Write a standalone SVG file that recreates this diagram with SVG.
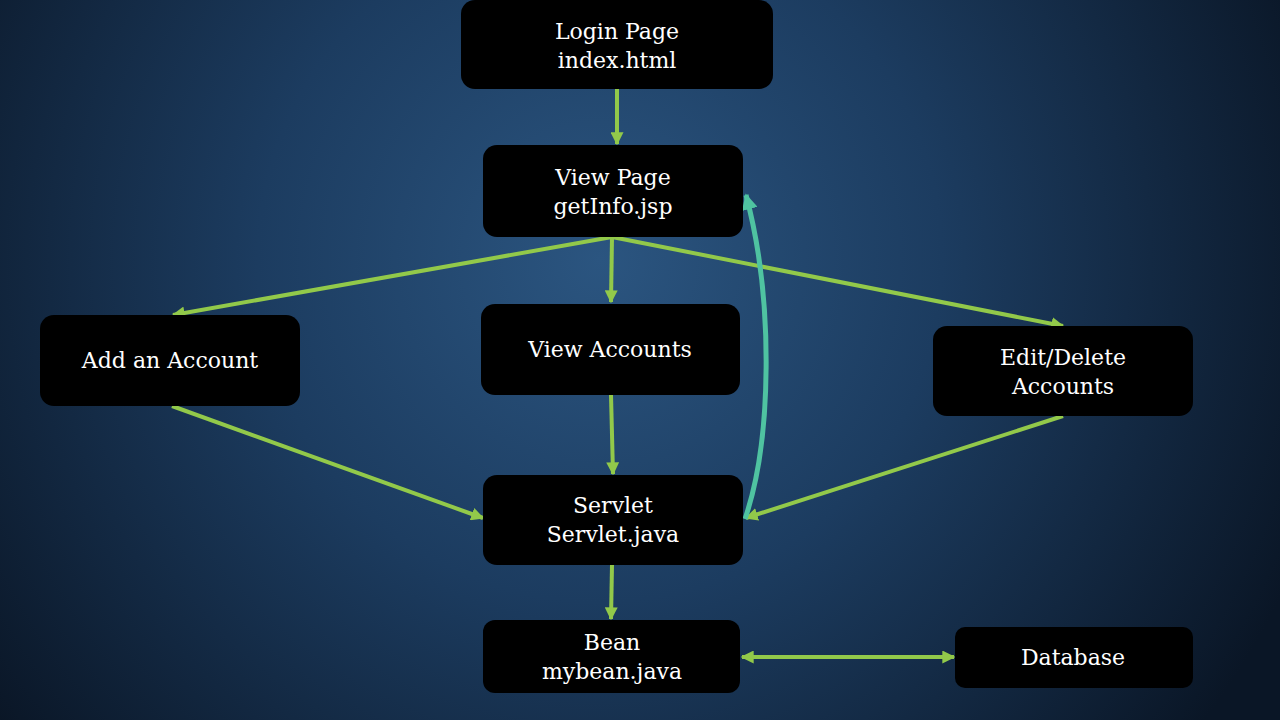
<svg xmlns="http://www.w3.org/2000/svg" width="1280" height="720" viewBox="0 0 1280 720">
<defs>
<radialGradient id="bg" cx="600" cy="260" r="760" gradientUnits="userSpaceOnUse">
<stop offset="0" stop-color="#2b5580"/>
<stop offset="0.45" stop-color="#1c3c60"/>
<stop offset="1" stop-color="#0a1626"/>
</radialGradient>
<marker id="ah" viewBox="0 0 10 10" refX="9" refY="5" markerWidth="13" markerHeight="13" markerUnits="userSpaceOnUse" orient="auto-start-reverse">
<path d="M0,0 L10,5 L0,10 z" fill="#92c94a"/>
</marker>
<marker id="ahT" viewBox="0 0 10 10" refX="9" refY="5" markerWidth="16" markerHeight="16" markerUnits="userSpaceOnUse" orient="auto">
<path d="M0,0 L10,5 L0,10 z" fill="#4fc3a1"/>
</marker>
<style>
.box{fill:#000}
.t{font-family:"DejaVu Serif","Liberation Serif",serif;font-size:22px;fill:#fff;text-anchor:middle}
.c{stroke:#92c94a;stroke-width:4;fill:none;marker-end:url(#ah)}
</style>
</defs>
<rect width="1280" height="720" fill="url(#bg)"/>
<g id="connectors">
<line class="c" x1="617" y1="89" x2="617" y2="144"/>
<line class="c" x1="612" y1="237" x2="173" y2="315"/>
<line class="c" x1="612" y1="237" x2="611" y2="302"/>
<line class="c" x1="612" y1="237" x2="1063" y2="326"/>
<line class="c" x1="172" y1="406" x2="483" y2="518"/>
<line class="c" x1="611" y1="395" x2="613" y2="474"/>
<line class="c" x1="1063" y1="416" x2="746" y2="518"/>
<line class="c" x1="612" y1="565" x2="611" y2="619"/>
<line class="c" x1="742" y1="657" x2="954" y2="657" marker-start="url(#ah)"/>
<path d="M745,519 C772,440 774,300 746,195" stroke="#4fc3a1" stroke-width="5" fill="none" marker-end="url(#ahT)"/>
</g>
<g id="login"><rect class="box" x="461" y="0" width="312" height="89" rx="14"/><text class="t" x="617" y="39">Login Page</text><text class="t" x="617" y="68">index.html</text></g>
<g id="view-page"><rect class="box" x="483" y="145" width="260" height="92" rx="14"/><text class="t" x="613" y="185">View Page</text><text class="t" x="613" y="214">getInfo.jsp</text></g>
<g id="add-account"><rect class="box" x="40" y="315" width="260" height="91" rx="14"/><text class="t" x="170" y="368">Add an Account</text></g>
<g id="view-accounts"><rect class="box" x="481" y="304" width="259" height="91" rx="14"/><text class="t" x="610" y="357">View Accounts</text></g>
<g id="edit-delete"><rect class="box" x="933" y="326" width="260" height="90" rx="14"/><text class="t" x="1063" y="365">Edit/Delete</text><text class="t" x="1063" y="394">Accounts</text></g>
<g id="servlet"><rect class="box" x="483" y="475" width="260" height="90" rx="14"/><text class="t" x="613" y="513">Servlet</text><text class="t" x="613" y="542">Servlet.java</text></g>
<g id="bean"><rect class="box" x="483" y="620" width="257" height="73" rx="12"/><text class="t" x="612" y="650">Bean</text><text class="t" x="612" y="679">mybean.java</text></g>
<g id="database"><rect class="box" x="955" y="627" width="238" height="61" rx="10"/><text class="t" x="1073" y="665">Database</text></g>
</svg>
